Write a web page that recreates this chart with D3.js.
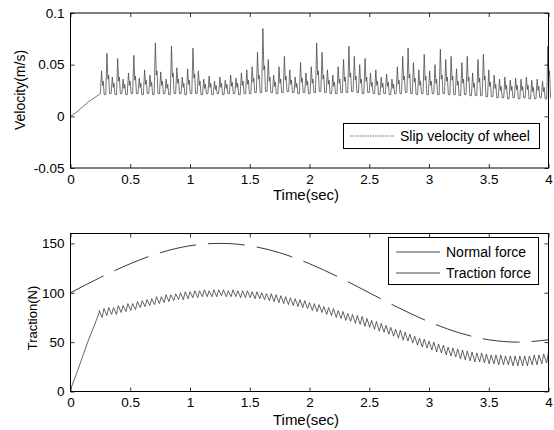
<!DOCTYPE html>
<html>
<head>
<meta charset="utf-8">
<script src="https://cdn.jsdelivr.net/npm/d3@7"></script>
<style>
  body { margin: 0; background: #fff; }
  text { font-family: "Liberation Sans", Arial, Helvetica, sans-serif; fill: #000; }
</style>
</head>
<body>
<svg id="chart" width="554" height="430"></svg>
<script>
// ---- data ----
const timeTicks = [0, 0.5, 1, 1.5, 2, 2.5, 3, 3.5, 4];
const velTicks = [-0.05, 0, 0.05, 0.1];
const forceTicks = [0, 50, 100, 150];

// slip velocity: start-up ramp, then one spike per period
const slipRampTime = [0, 0.05, 0.1, 0.15, 0.2, 0.25];
const slipRampVel = [0, 0.004, 0.009, 0.014, 0.018, 0.022];
const slipStart = 0.25;
const slipPeriod = 0.045;
const slipPeaks = [
  0.044, 0.061, 0.038, 0.056, 0.036, 0.042, 0.059, 0.037, 0.045, 0.040,
  0.071, 0.043, 0.036, 0.068, 0.047, 0.038, 0.046, 0.066, 0.044, 0.036,
  0.039, 0.034, 0.038, 0.035, 0.040, 0.037, 0.042, 0.045, 0.048, 0.062,
  0.085, 0.055, 0.040, 0.048, 0.058, 0.045, 0.038, 0.052, 0.042, 0.048,
  0.071, 0.062, 0.045, 0.040, 0.048, 0.055, 0.068, 0.058, 0.050, 0.056,
  0.042, 0.045, 0.038, 0.041, 0.036, 0.048, 0.058, 0.066, 0.052, 0.045,
  0.060, 0.044, 0.050, 0.065, 0.055, 0.058, 0.046, 0.052, 0.058, 0.042,
  0.055, 0.060, 0.045, 0.040, 0.036, 0.038, 0.035, 0.037, 0.036, 0.038,
  0.035, 0.036, 0.034, 0.068
];
// small shoulder on the falling side of each spike
const slipShoulders = [
  0.030, 0.036, 0.028, 0.034, 0.027, 0.030, 0.035, 0.028, 0.031, 0.029,
  0.040, 0.030, 0.027, 0.038, 0.032, 0.028, 0.031, 0.037, 0.030, 0.027,
  0.028, 0.026, 0.028, 0.027, 0.029, 0.028, 0.030, 0.031, 0.033, 0.036,
  0.045, 0.034, 0.029, 0.032, 0.035, 0.031, 0.028, 0.033, 0.030, 0.032,
  0.040, 0.036, 0.031, 0.029, 0.032, 0.034, 0.038, 0.035, 0.032, 0.034,
  0.029, 0.030, 0.028, 0.029, 0.027, 0.031, 0.035, 0.037, 0.033, 0.030,
  0.035, 0.030, 0.032, 0.036, 0.034, 0.035, 0.030, 0.032, 0.034, 0.028,
  0.033, 0.035, 0.029, 0.027, 0.025, 0.026, 0.025, 0.026, 0.025, 0.026,
  0.024, 0.025, 0.024, 0.040
];
const slipTroughs = [
  0.021, 0.022, 0.021, 0.022, 0.021, 0.022, 0.022, 0.021, 0.022, 0.021,
  0.022, 0.022, 0.021, 0.022, 0.022, 0.021, 0.022, 0.022, 0.021, 0.022,
  0.021, 0.022, 0.021, 0.022, 0.022, 0.021, 0.022, 0.022, 0.023, 0.023,
  0.024, 0.023, 0.022, 0.023, 0.024, 0.023, 0.022, 0.023, 0.022, 0.023,
  0.024, 0.023, 0.022, 0.022, 0.023, 0.023, 0.024, 0.023, 0.022, 0.023,
  0.022, 0.021, 0.022, 0.021, 0.022, 0.022, 0.023, 0.022, 0.021, 0.022,
  0.021, 0.022, 0.021, 0.022, 0.021, 0.021, 0.020, 0.021, 0.020, 0.020,
  0.020, 0.019, 0.019, 0.018, 0.018, 0.017, 0.018, 0.017, 0.018, 0.017,
  0.017, 0.018, 0.017, 0.018
];

// normal force
const normalTime = [0, 0.25, 0.5, 0.75, 1, 1.25, 1.5, 1.75, 2, 2.25, 2.5, 2.75, 3, 3.25, 3.5, 3.75, 4];
const normalForce = [100, 115.5, 129.4, 140.5, 147.6, 150, 147.6, 140.5, 129.4, 115.5, 100, 84.5, 70.6, 59.5, 52.4, 50, 52.4];

// traction force: ramp, then a saw-tooth between upper and lower values
const tractionRampTime = [0, 0.05, 0.1, 0.15, 0.2, 0.24];
const tractionRampForce = [2, 18, 35, 52, 67, 80];
const tractionStart = 0.24;
const tractionPeriod = 0.04;
const tractionUpper = [
  82, 84, 85, 85, 87, 87, 89, 89, 91, 92,
  93, 94, 96, 96, 98, 98, 99, 100, 101, 101,
  102, 102, 103, 102, 103, 103, 103, 102, 103, 102,
  102, 102, 101, 101, 100, 99, 99, 98, 97, 96,
  95, 94, 93, 92, 90, 89, 88, 86, 85, 84,
  82, 81, 79, 78, 77, 76, 74, 72, 71, 69,
  67, 65, 63, 62, 60, 58, 56, 54, 53, 51,
  50, 48, 47, 45, 44, 43, 42, 41, 40, 39,
  39, 38, 37, 37, 37, 36, 36, 36, 36, 36,
  36, 37, 37, 38, 40
];
const tractionLower = [
  75, 77, 78, 78, 80, 81, 82, 83, 85, 86,
  87, 88, 89, 90, 91, 92, 93, 93, 94, 95,
  95, 96, 96, 96, 96, 97, 96, 96, 96, 95,
  95, 95, 94, 94, 93, 92, 91, 90, 89, 88,
  87, 86, 85, 84, 82, 81, 80, 78, 77, 75,
  74, 72, 71, 69, 68, 66, 65, 63, 61, 60,
  58, 56, 54, 52, 51, 49, 47, 45, 44, 42,
  40, 39, 37, 36, 35, 33, 32, 31, 30, 30,
  29, 28, 28, 27, 27, 27, 26, 26, 26, 26,
  27, 27, 28, 29
];

// ---- build the series ----
const slipData = slipRampTime.map((t, i) => [t, slipRampVel[i]]);
let prevTrough = slipRampVel[slipRampVel.length - 1];
slipPeaks.forEach((p, i) => {
  const t = slipStart + i * slipPeriod;
  slipData.push(
    [t, prevTrough],
    [t + 0.01, p],
    [t + 0.018, slipShoulders[i]],
    [t + 0.024, slipShoulders[i] + 0.004],
    [t + 0.032, slipTroughs[i]]
  );
  prevTrough = slipTroughs[i];
});

const normalData = normalTime.map((t, i) => [t, normalForce[i]]);

const tractionData = tractionRampTime.map((t, i) => [t, tractionRampForce[i]]);
tractionUpper.forEach((u, i) => {
  const t = tractionStart + i * tractionPeriod;
  tractionData.push([t, u]);
  if (i < tractionLower.length) tractionData.push([t + tractionPeriod * 0.6, tractionLower[i]]);
});

// ---- drawing ----
const svg = d3.select('#chart');
svg.append('rect').attr('width', 554).attr('height', 430).attr('fill', '#fff');

const left = 70.5, right = 548.5;
const x = d3.scaleLinear().domain([0, 4]).range([left, right]);

const yVel = d3.scaleLinear().domain([-0.05, 0.1]).range([168, 13]);
const yForce = d3.scaleLinear().domain([0, 160]).range([391.5, 233.5]);

function drawFrame(y, yTicks, top, bottom) {
  const g = svg.append('g');
  const tickLen = 4;

  const bx = g.append('g').attr('transform', `translate(0,${bottom})`)
    .call(d3.axisBottom(x).tickValues(timeTicks).tickSize(-tickLen).tickPadding(6).tickFormat(d => String(d)));
  const tx = g.append('g').attr('transform', `translate(0,${top})`)
    .call(d3.axisTop(x).tickValues(timeTicks).tickSize(-tickLen).tickFormat(''));
  const ly = g.append('g').attr('transform', `translate(${left},0)`)
    .call(d3.axisLeft(y).tickValues(yTicks).tickSize(-tickLen).tickPadding(6).tickFormat(d => String(d)));
  const ry = g.append('g').attr('transform', `translate(${right},0)`)
    .call(d3.axisRight(y).tickValues(yTicks).tickSize(-tickLen).tickFormat(''));

  [bx, tx, ly, ry].forEach(a => {
    a.select('.domain').remove();
    a.selectAll('line').attr('stroke', '#000').attr('stroke-width', 0.8);
    a.selectAll('text').style('font-size', '13.5px').attr('fill', '#000');
  });

  g.append('rect')
    .attr('x', left).attr('y', top)
    .attr('width', right - left).attr('height', bottom - top)
    .attr('fill', 'none').attr('stroke', '#000').attr('stroke-width', 1);
}

// top panel
const line = (yScale) => d3.line().x(d => x(d[0])).y(d => yScale(d[1]));

svg.append('path').datum(slipData)
  .attr('fill', 'none').attr('stroke', '#444').attr('stroke-width', 0.75)
  .attr('d', line(yVel));
drawFrame(yVel, velTicks, 13, 168);

svg.append('text').attr('x', 306).attr('y', 200).attr('text-anchor', 'middle')
  .style('font-size', '15px').text('Time(sec)');
svg.append('text').attr('transform', 'translate(25,90) rotate(-90)').attr('text-anchor', 'middle')
  .style('font-size', '14px').text('Velocity(m/s)');

// top legend
const lg1 = svg.append('g');
lg1.append('rect').attr('x', 343.5).attr('y', 123.5).attr('width', 196).attr('height', 25)
  .attr('fill', '#fff').attr('stroke', '#000');
lg1.append('line').attr('x1', 350).attr('x2', 394).attr('y1', 136).attr('y2', 136)
  .attr('stroke', '#444').attr('stroke-width', 0.8).attr('stroke-dasharray', '1.5,1');
lg1.append('text').attr('x', 400).attr('y', 141).style('font-size', '14px').text('Slip velocity of wheel');

// bottom panel
svg.append('path').datum(normalData)
  .attr('fill', 'none').attr('stroke', '#222').attr('stroke-width', 0.9)
  .attr('stroke-dasharray', '37,12')
  .attr('d', line(yForce).curve(d3.curveMonotoneX));
svg.append('path').datum(tractionData)
  .attr('fill', 'none').attr('stroke', '#333').attr('stroke-width', 0.75)
  .attr('d', line(yForce));
drawFrame(yForce, forceTicks, 233.5, 391.5);

svg.append('text').attr('x', 306).attr('y', 425).attr('text-anchor', 'middle')
  .style('font-size', '15px').text('Time(sec)');
svg.append('text').attr('transform', 'translate(37,318) rotate(-90)').attr('text-anchor', 'middle')
  .style('font-size', '13px').text('Traction(N)');

// bottom legend
const lg2 = svg.append('g');
lg2.append('rect').attr('x', 388.5).attr('y', 237.5).attr('width', 150).attr('height', 47)
  .attr('fill', '#fff').attr('stroke', '#000');
[['Normal force', 252], ['Traction force', 273]].forEach(([label, yy]) => {
  lg2.append('line').attr('x1', 396).attr('x2', 440).attr('y1', yy).attr('y2', yy)
    .attr('stroke', '#333').attr('stroke-width', 0.9);
  lg2.append('text').attr('x', 446).attr('y', yy + 5).style('font-size', '14px').text(label);
});
</script>
</body>
</html>
